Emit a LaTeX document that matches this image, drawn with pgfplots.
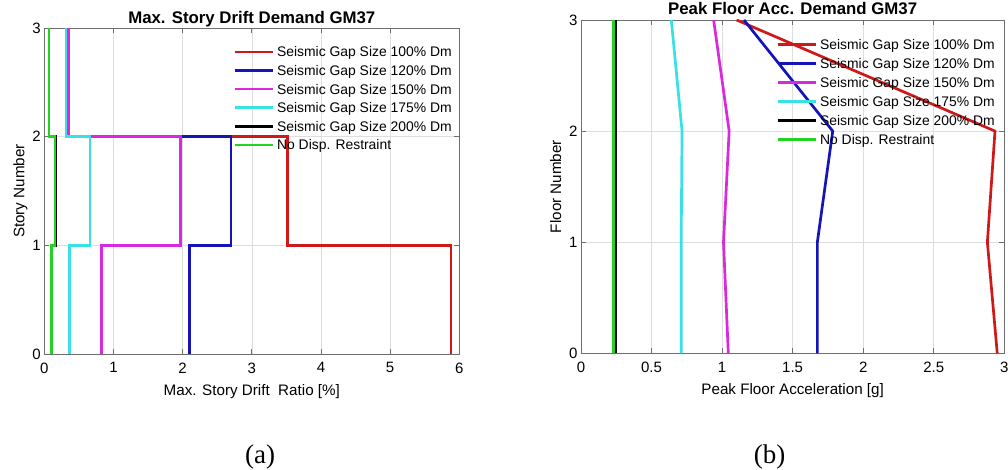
\documentclass[border=0pt]{standalone}
\usepackage{fontspec}
\setmainfont{Liberation Sans}
\newfontfamily\capfont{Liberation Serif}
\usepackage{pgfplots}
\pgfplotsset{compat=1.18}

\definecolor{cRed}{RGB}{205,25,25}
\definecolor{cBlue}{RGB}{20,20,185}
\definecolor{cMag}{RGB}{220,40,220}
\definecolor{cCyan}{RGB}{55,225,230}
\definecolor{cGreen}{RGB}{35,210,35}
\definecolor{gridgray}{RGB}{222,222,222}
\definecolor{axgray}{RGB}{110,110,110}

\newcommand\labfont{\fontsize{15.2}{18}\selectfont}

\pgfplotsset{
  mlab/.style={
    scale only axis,
    axis line style={axgray, line width=0.8pt},
    tick style={axgray, line width=0.8pt},
    major tick length=5pt,
    tick align=inside,
    xtick pos=both, ytick pos=both,
    xticklabel pos=lower, yticklabel pos=left,
    grid=major,
    major grid style={gridgray, line width=0.6pt},
    tick label style={font=\fontsize{15}{18}\selectfont},
    xticklabel style={yshift=-5pt},
    /pgf/number format/assume math mode=true,
    every axis x label/.style={at={(axis description cs:0.5,0)}, anchor=base, yshift=-41pt, font=\labfont},
    every axis title/.style={font=\bfseries\fontsize{16.8}{20}\selectfont, at={(axis description cs:0.5,1)}, anchor=base, yshift=5pt},
    every axis plot post/.append style={line width=2.7pt},
    legend cell align=left,
    legend image code/.code={\draw[#1, line width=2.7pt] (0pt,0pt) -- (38.7pt,0pt);},
    legend style={draw=none, fill=none, anchor=north west, inner sep=0pt,
      font=\fontsize{13.9}{16}\selectfont, column sep=2.5pt, row sep=0pt,
      nodes={inner xsep=0pt, text height=12.5pt, text depth=2.6pt}},
  }
}

\begin{document}
\begin{tikzpicture}
\useasboundingbox (0pt,0pt) rectangle (1008pt,469pt);

% (a) maximum story drift, drawn as steps over each story
\begin{axis}[mlab,
  at={(44.3pt,115pt)}, anchor=south west,
  width=415pt, height=326pt,
  xmin=0, xmax=6, ymin=0, ymax=3,
  xtick={0,1,...,6}, ytick={0,1,2,3},
  title={Max. Story Drift Demand GM37},
  xlabel={Max. Story Drift\ \ Ratio [\%]},
  ylabel={Story Number},
  every axis y label/.style={at={(axis description cs:-0.048,0.5)}, rotate=90, anchor=base, font=\labfont},
  legend style={at={(axis description cs:0.4547,0.9558)}, nodes={inner ysep=1.75pt}},
]
\addplot[cRed] coordinates {(5.88,0) (5.88,1) (3.52,1) (3.52,2) (0.33,2) (0.33,3)};
\addplot[cBlue] coordinates {(2.10,0) (2.10,1) (2.70,1) (2.70,2) (0.33,2) (0.33,3)};
\addplot[cMag] coordinates {(0.83,0) (0.83,1) (1.97,1) (1.97,2) (0.347,2) (0.347,3)};
\addplot[cCyan] coordinates {(0.36,0) (0.36,1) (0.66,1) (0.66,2) (0.314,2) (0.314,3)};
\addplot[black] coordinates {(0.11,0) (0.11,1) (0.17,1) (0.17,2) (0.068,2) (0.068,3)};
\addplot[cGreen] coordinates {(0.105,0) (0.105,1) (0.155,1) (0.155,2) (0.068,2) (0.068,3)};
\legend{Seismic Gap Size 100\% Dm, Seismic Gap Size 120\% Dm, Seismic Gap Size 150\% Dm,
        Seismic Gap Size 175\% Dm, Seismic Gap Size 200\% Dm, No Disp. Restraint}
\end{axis}

% (b) peak floor acceleration profile
\begin{axis}[mlab,
  at={(581pt,115.7pt)}, anchor=south west,
  width=423.3pt, height=333.3pt,
  xmin=0, xmax=3, ymin=0, ymax=3,
  xtick={0,0.5,...,3}, ytick={0,1,2,3},
  title={Peak Floor Acc. Demand GM37},
  xlabel={Peak Floor Acceleration [g]},
  ylabel={Floor Number},
  every axis y label/.style={at={(axis description cs:-0.047,0.5)}, rotate=90, anchor=base, font=\labfont},
  legend style={at={(axis description cs:0.4607,0.9565)}, nodes={inner ysep=1.95pt}},
]
\addplot[cRed] coordinates {(2.95,0) (2.88,1) (2.934,2) (1.103,3)};
\addplot[cBlue] coordinates {(1.675,0) (1.675,1) (1.784,2) (1.155,3)};
\addplot[cMag] coordinates {(1.044,0) (1.01,1) (1.05,2) (0.94,3)};
\addplot[cCyan] coordinates {(0.71,0) (0.71,1) (0.716,2) (0.64,3)};
\addplot[black] coordinates {(0.243,0) (0.243,1) (0.243,2) (0.243,3)};
\addplot[cGreen] coordinates {(0.229,0) (0.229,1) (0.229,2) (0.229,3)};
\legend{Seismic Gap Size 100\% Dm, Seismic Gap Size 120\% Dm, Seismic Gap Size 150\% Dm,
        Seismic Gap Size 175\% Dm, Seismic Gap Size 200\% Dm, No Disp. Restraint}
\end{axis}

\node[font=\capfont\fontsize{27}{30}\selectfont, anchor=base] at (260pt,6pt) {(a)};
\node[font=\capfont\fontsize{27}{30}\selectfont, anchor=base] at (769.5pt,6pt) {(b)};
\end{tikzpicture}
\end{document}
